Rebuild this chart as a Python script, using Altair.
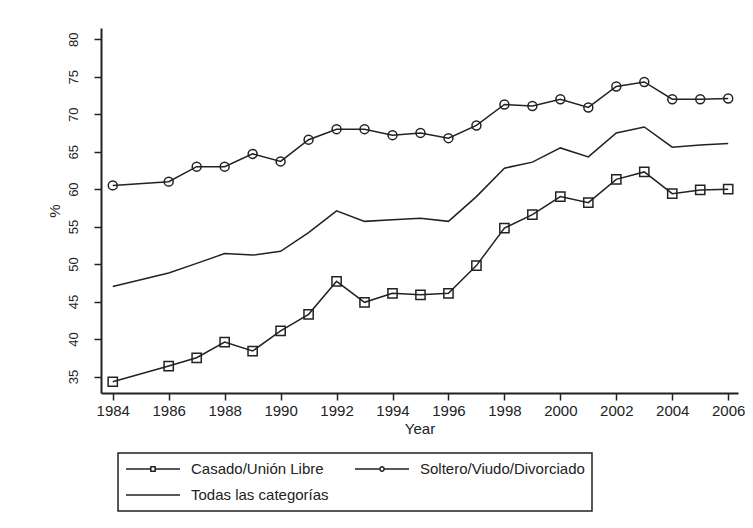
import altair as alt
import pandas as pd

# ---- data ----
years = [1984, 1986, 1987, 1988, 1989, 1990, 1991, 1992, 1993, 1994, 1995,
         1996, 1997, 1998, 1999, 2000, 2001, 2002, 2003, 2004, 2005, 2006]
casado = [34.3, 36.4, 37.5, 39.6, 38.4, 41.1, 43.3, 47.7, 44.9, 46.1, 45.9,
          46.1, 49.8, 54.8, 56.6, 59.0, 58.2, 61.3, 62.3, 59.4, 59.9, 60.0]
soltero = [60.5, 61.0, 63.0, 63.0, 64.7, 63.7, 66.6, 68.0, 68.0, 67.2, 67.5,
           66.8, 68.5, 71.3, 71.1, 72.0, 70.9, 73.7, 74.3, 72.0, 72.0, 72.1]
todas = [47.0, 48.8, 50.1, 51.4, 51.2, 51.7, 54.2, 57.1, 55.7, 55.9, 56.1,
         55.7, 59.0, 62.8, 63.6, 65.5, 64.3, 67.5, 68.3, 65.6, 65.9, 66.1]
series_names = ["Casado/Unión Libre", "Soltero/Viudo/Divorciado", "Todas las categorías"]
x_ticks = list(range(1984, 2007, 2))
y_ticks = list(range(35, 81, 5))

rows = []
for name, vals in zip(series_names, [casado, soltero, todas]):
    for yr, v in zip(years, vals):
        rows.append({"Year": yr, "Valor": v, "Serie": name})
df = pd.DataFrame(rows)

INK = "#222222"
FONT = "Liberation Sans"

# legend symbols: line with small marker in the middle (Stata style)
legend_paths = [
    "M-1,0H-0.08M0.08,0H1M-0.08,-0.08H0.08V0.08H-0.08Z",
    "M-1,0H-0.08M0.08,0H1M0.08,0A0.08,0.08 0 1,1 -0.08,0A0.08,0.08 0 1,1 0.08,0Z",
    "M-1,0H1",
]

x = alt.X("Year:Q",
          scale=alt.Scale(domain=[1983.58, 2006.35], nice=False, zero=False),
          axis=alt.Axis(values=x_ticks, format="d", title="Year",
                        labelFontSize=15, titleFontSize=15, titlePadding=3,
                        labelPadding=3, titleFontWeight="normal"))
y = alt.Y("Valor:Q",
          scale=alt.Scale(domain=[32.8, 81.5], nice=False, zero=False),
          axis=alt.Axis(values=y_ticks, title="%", labelAngle=270,
                        labelAlign="center", labelBaseline="bottom",
                        labelFontSize=13, titleFontSize=15, labelPadding=14,
                        titlePadding=5, titleFontWeight="normal"))

base = alt.Chart(df)

lines = base.mark_line(color=INK, strokeWidth=1.5).encode(x=x, y=y, detail="Serie:N")

squares = base.transform_filter(alt.datum.Serie == series_names[0]).mark_point(
    shape="square", filled=False, size=85, color=INK, strokeWidth=1.5, opacity=1
).encode(x=x, y=y)

circles = base.transform_filter(alt.datum.Serie == series_names[1]).mark_point(
    shape="circle", filled=False, size=80, color=INK, strokeWidth=1.5, opacity=1
).encode(x=x, y=y)

legend_layer = base.mark_point(size=0, filled=False, color=INK).encode(
    x=x, y=y,
    shape=alt.Shape("Serie:N",
                    scale=alt.Scale(domain=series_names, range=legend_paths),
                    legend=alt.Legend(
                        title=None, orient="none", legendX=17, legendY=425,
                        direction="horizontal",
                        columns=2, columnPadding=25, rowPadding=8,
                        clipHeight=18, symbolSize=2916, symbolStrokeWidth=1.5,
                        symbolStrokeColor=INK, symbolOpacity=1,
                        labelFontSize=15, labelOffset=10, labelFont=FONT,
                        labelColor=INK, labelLimit=300,
                        strokeColor=INK, fillColor="white", padding=7)))

chart = alt.layer(lines, squares, circles, legend_layer).properties(
    width=637, height=365,
    autosize=alt.AutoSizeParams(type="none"),
    padding={"left": 93, "top": 20, "right": 7, "bottom": 125},
    background="white",
).configure_view(stroke=None).configure_axis(
    grid=False, domainColor=INK, domainWidth=2, tickColor=INK, tickWidth=1.5,
    tickSize=7, labelColor=INK, titleColor=INK, labelFont=FONT, titleFont=FONT,
).configure_legend(strokeWidth=1.5)

chart.save("out.html", embed_options={"renderer": "svg", "actions": False})
